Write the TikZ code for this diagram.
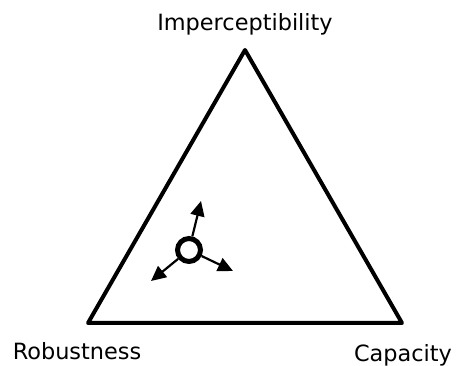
\documentclass[tikz,border=0pt]{standalone}
\usepackage{fontspec}
\setmainfont{DejaVu Sans}
\usetikzlibrary{arrows.meta}
\tikzset{
  corner/.style={font=\fontsize{22.4}{27}\selectfont,inner sep=0pt,anchor=base},
  side/.style={line width=4pt,line join=round},
  point/.style={circle,draw,line width=5pt,minimum size=23pt,inner sep=0pt},
  vec/.style={-{Triangle[length=15pt,width=14pt]},line width=2.2pt}
}
\begin{document}
\begin{tikzpicture}[x=1pt,y=-1pt]
\useasboundingbox (0,0) rectangle (456,366);
% corners of the triangle
\coordinate (top) at (245,50);
\coordinate (left) at (88,323);
\coordinate (right) at (402,323);
\draw[side] (top) -- (left) -- (right) -- cycle;
% labels
\node[corner] (imp) at (245,31) {Imperceptibility};
\node[corner] (rob) at (77,360) {Robustness};
\node[corner] (cap) at (403,362) {Capacity};
% the point and its pulls
\node[point] (p) at (189,250) {};
\coordinate (tu) at (201,201);
\coordinate (tl) at (151,281);
\coordinate (tr) at (233,271);
\draw[vec] (p) -- (tu);
\draw[vec] (p) -- (tl);
\draw[vec] (p) -- (tr);
\end{tikzpicture}
\end{document}
